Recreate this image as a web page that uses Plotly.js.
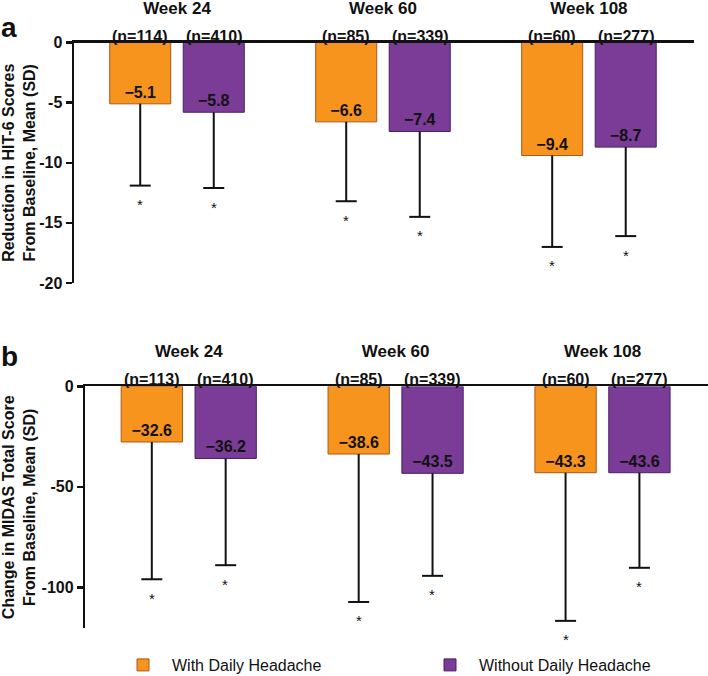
<!DOCTYPE html>
<html>
<head>
<meta charset="utf-8">
<script src="https://cdn.plot.ly/plotly-3.0.1.min.js"></script>
<style>
  body { margin: 0; background: #fff; }
  #plot { width: 708px; height: 676px; }
</style>
</head>
<body>
<div id="plot"></div>
<script>
const weeks = ['Week 24', 'Week 60', 'Week 108'];

// panel a - HIT-6 reduction
const hitWith = [-5.1, -6.6, -9.4];
const hitWithout = [-5.8, -7.4, -8.7];
const hitWithSD = [6.8, 6.6, 7.6];
const hitWithoutSD = [6.3, 7.1, 7.4];
const hitWithN = ['(n=114)', '(n=85)', '(n=60)'];
const hitWithoutN = ['(n=410)', '(n=339)', '(n=277)'];
const hitTickVals = [0, -5, -10, -15, -20];
const hitTickText = ['0', '-5', '-10', '-15', '-20'];

// panel b - MIDAS change (bar ends as drawn, labels as printed)
const midasWith = [-27.7, -33.7, -43.0];
const midasWithout = [-35.9, -43.3, -43.0];
const midasWithLabel = [-32.6, -38.6, -43.3];
const midasWithoutLabel = [-36.2, -43.5, -43.6];
const midasWithSD = [68.3, 73.6, 73.7];
const midasWithoutSD = [53.1, 51.0, 47.3];
const midasWithN = ['(n=113)', '(n=85)', '(n=60)'];
const midasWithoutN = ['(n=410)', '(n=339)', '(n=277)'];
const midasTickVals = [0, -50, -100];
const midasTickText = ['0', '-50', '-100'];

const FONT = 'Liberation Sans, Arial, Helvetica, sans-serif';
const ORANGE = '#F7941D', ORANGE_EDGE = '#A8581C';
const PURPLE = '#7B3C98', PURPLE_EDGE = '#4A1F63';
const SHIFT = 36.7; // half distance between the two bars of a group, px

function fmt(v) {
    return '\u2212' + Math.abs(v).toFixed(1);
}

function barTrace(name, y, labels, sd, color, edge, xa, ya, legend, showlegend) {
    return {
        type: 'bar', name: name, x: weeks, y: y,
        text: labels.map(fmt), textposition: 'inside', insidetextanchor: 'end',
        textangle: 0, constraintext: 'none',
        textfont: { family: FONT, size: 16, color: '#111', weight: 'bold' },
        marker: { color: color, line: { color: edge, width: 1 } },
        error_y: {
            type: 'data', symmetric: false, array: y.map(() => 0), arrayminus: sd,
            width: 0, thickness: 2, color: '#111'
        },
        xaxis: xa, yaxis: ya, offsetgroup: name, legend: legend,
        showlegend: showlegend, hoverinfo: 'skip'
    };
}

// cap at the end of each whisker
function capTrace(name, y, sd, xa, ya) {
    return {
        type: 'scatter', mode: 'markers', x: weeks,
        y: y.map((v, i) => v - sd[i]),
        marker: { symbol: 'line-ew', size: 15, line: { width: 2, color: '#111' } },
        xaxis: xa, yaxis: ya, offsetgroup: name, showlegend: false,
        hoverinfo: 'skip', cliponaxis: false
    };
}

const traces = [
    barTrace('With Daily Headache', hitWith, hitWith, hitWithSD, ORANGE, ORANGE_EDGE, 'x', 'y', 'legend', true),
    barTrace('Without Daily Headache', hitWithout, hitWithout, hitWithoutSD, PURPLE, PURPLE_EDGE, 'x', 'y', 'legend2', true),
    barTrace('With Daily Headache', midasWith, midasWithLabel, midasWithSD, ORANGE, ORANGE_EDGE, 'x2', 'y2', 'legend', false),
    barTrace('Without Daily Headache', midasWithout, midasWithoutLabel, midasWithoutSD, PURPLE, PURPLE_EDGE, 'x2', 'y2', 'legend2', false),
    capTrace('With Daily Headache', hitWith, hitWithSD, 'x', 'y'),
    capTrace('Without Daily Headache', hitWithout, hitWithoutSD, 'x', 'y'),
    capTrace('With Daily Headache', midasWith, midasWithSD, 'x2', 'y2'),
    capTrace('Without Daily Headache', midasWithout, midasWithoutSD, 'x2', 'y2')
];

const boldFont = { family: FONT, size: 16, color: '#111', weight: 'bold' };

function xAxis(domain, anchor, standoff) {
    return {
        domain: domain, anchor: anchor, range: [-0.5, 2.51], side: 'top',
        showline: true, linewidth: 2.5, linecolor: '#111', showgrid: false, zeroline: false,
        ticks: '', tickfont: { family: FONT, size: 17, color: '#111', weight: 'bold' },
        ticklabelstandoff: standoff, fixedrange: true
    };
}

function yAxis(domain, anchor, range, vals, texts, title) {
    return {
        domain: domain, anchor: anchor, range: range,
        showline: true, linewidth: 2.5, linecolor: '#111', showgrid: false, zeroline: false,
        ticks: 'outside', ticklen: 6, tickwidth: 2.5, tickcolor: '#111',
        tickvals: vals, ticktext: texts, tickfont: boldFont,
        title: { text: title, font: boldFont, standoff: 10 }, fixedrange: true
    };
}

function nLabels(xref, yref, withN, withoutN) {
    const out = [];
    weeks.forEach((w, i) => {
        [[withN[i], -SHIFT], [withoutN[i], SHIFT]].forEach(([t, s]) => {
            out.push({
                xref: xref, yref: yref, x: w, y: 0, xshift: s, yshift: -4,
                yanchor: 'bottom', showarrow: false, text: t, font: boldFont
            });
        });
    });
    return out;
}

// significance asterisks under each whisker
function stars(xref, yref, withY, withSD, withoutY, withoutSD) {
    const out = [];
    weeks.forEach((w, i) => {
        [[withY[i] - withSD[i], -SHIFT], [withoutY[i] - withoutSD[i], SHIFT]].forEach(([y, s]) => {
            out.push({
                xref: xref, yref: yref, x: w, y: y, xshift: s, yshift: -19,
                yanchor: 'middle', showarrow: false, text: '*',
                font: { family: FONT, size: 15, color: '#111' }
            });
        });
    });
    return out;
}

const legendFont = { family: FONT, size: 16, color: '#111' };

const layout = {
    width: 708, height: 676,
    margin: { l: 0, r: 0, t: 0, b: 0, autoexpand: false },
    paper_bgcolor: '#fff', plot_bgcolor: '#fff',
    font: { family: FONT, color: '#111' },
    barmode: 'group', bargap: 0.286, bargroupgap: 0.17,
    scattermode: 'group', scattergap: 0.286,
    xaxis: xAxis([74 / 708, 694 / 708], 'y', 19),
    yaxis: yAxis([1 - 283 / 676, 1 - 42.5 / 676], 'x', [-20, 0], hitTickVals, hitTickText,
        'Reduction in HIT-6 Scores<br>From Baseline, Mean (SD)'),
    xaxis2: xAxis([85.3 / 708, 1], 'y2', 20),
    yaxis2: yAxis([1 - 628.3 / 676, 1 - 386.3 / 676], 'x2', [-120.4, 0], midasTickVals, midasTickText,
        'Change in MIDAS Total Score<br>From Baseline, Mean (SD)'),
    showlegend: true,
    legend: {
        orientation: 'h', x: 114 / 708, xanchor: 'left', y: 1 - 665 / 676, yanchor: 'middle',
        font: legendFont, itemwidth: 48, bgcolor: 'rgba(0,0,0,0)'
    },
    legend2: {
        orientation: 'h', x: 421 / 708, xanchor: 'left', y: 1 - 665 / 676, yanchor: 'middle',
        font: legendFont, itemwidth: 48, bgcolor: 'rgba(0,0,0,0)'
    },
    annotations: [
        { xref: 'paper', yref: 'paper', x: 9 / 708, y: 1 - 27 / 676, xanchor: 'center', yanchor: 'middle',
          showarrow: false, text: 'a', font: { family: FONT, size: 28, color: '#111', weight: 'bold' } },
        { xref: 'paper', yref: 'paper', x: 9 / 708, y: 1 - 356 / 676, xanchor: 'center', yanchor: 'middle',
          showarrow: false, text: 'b', font: { family: FONT, size: 28, color: '#111', weight: 'bold' } }
    ].concat(nLabels('x', 'y', hitWithN, hitWithoutN))
     .concat(nLabels('x2', 'y2', midasWithN, midasWithoutN))
     .concat(stars('x', 'y', hitWith, hitWithSD, hitWithout, hitWithoutSD))
     .concat(stars('x2', 'y2', midasWith, midasWithSD, midasWithout, midasWithoutSD))
};

Plotly.newPlot('plot', traces, layout, { displayModeBar: false, staticPlot: true });
</script>
</body>
</html>
